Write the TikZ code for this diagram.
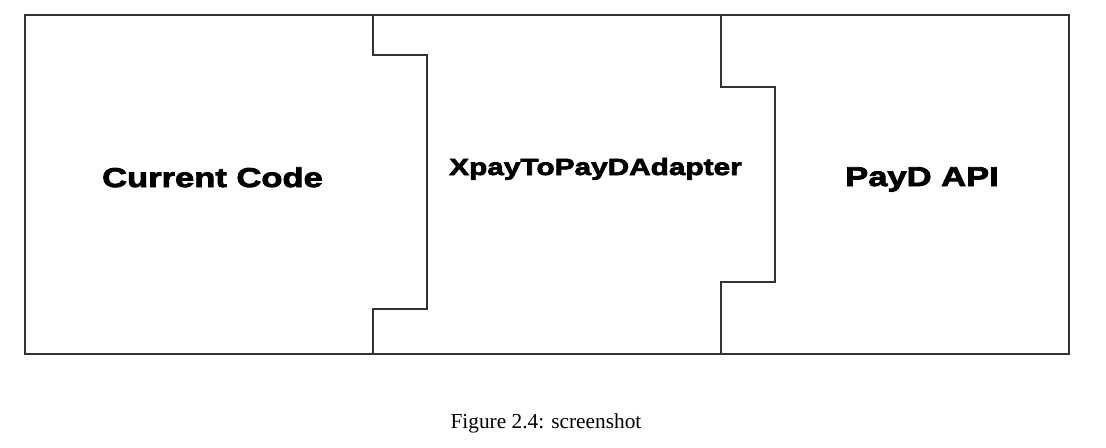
\documentclass[tikz,border=0pt]{standalone}
\usepackage{fontspec}
\setmainfont{Liberation Serif}
\newfontfamily\blockfont[FakeStretch=1.27,FakeBold=3]{Liberation Sans}
\usepackage{tikz}
\usetikzlibrary{calc}

\begin{document}
\begin{tikzpicture}[x=0.75pt,y=-0.75pt,
  wall/.style={draw=black!80, line width=1.5pt},
  blocklabel/.style={font={\blockfont\bfseries\fontsize{20.4}{24}\selectfont}, anchor=base, inner sep=0pt}]

\useasboundingbox (0,0) rectangle (1106,447);

 % outer frame
 \draw [wall] (25,14.5) rectangle (1069,354);

 % the two stepped joints
 \draw [wall] (373,14.5) -- (373,55) -- (427,55) -- (427,309) -- (373,309) -- (373,354);
 \draw [wall] (721,14.5) -- (721,87) -- (775,87) -- (775,282) -- (721,282) -- (721,354);

 \node [blocklabel] (current) at (212.5,187) {Current Code};
 \node [blocklabel, font={\blockfont\bfseries\fontsize{17.6}{21}\selectfont}] (adapter) at (595.5,175) {XpayToPayDAdapter};
 \node [blocklabel] (payd) at (922,186) {PayD API};

 \node [anchor=base, inner sep=0pt, font=\fontsize{16}{19}\selectfont] (caption) at (546,428) {Figure 2.4: screenshot};

\end{tikzpicture}
\end{document}
